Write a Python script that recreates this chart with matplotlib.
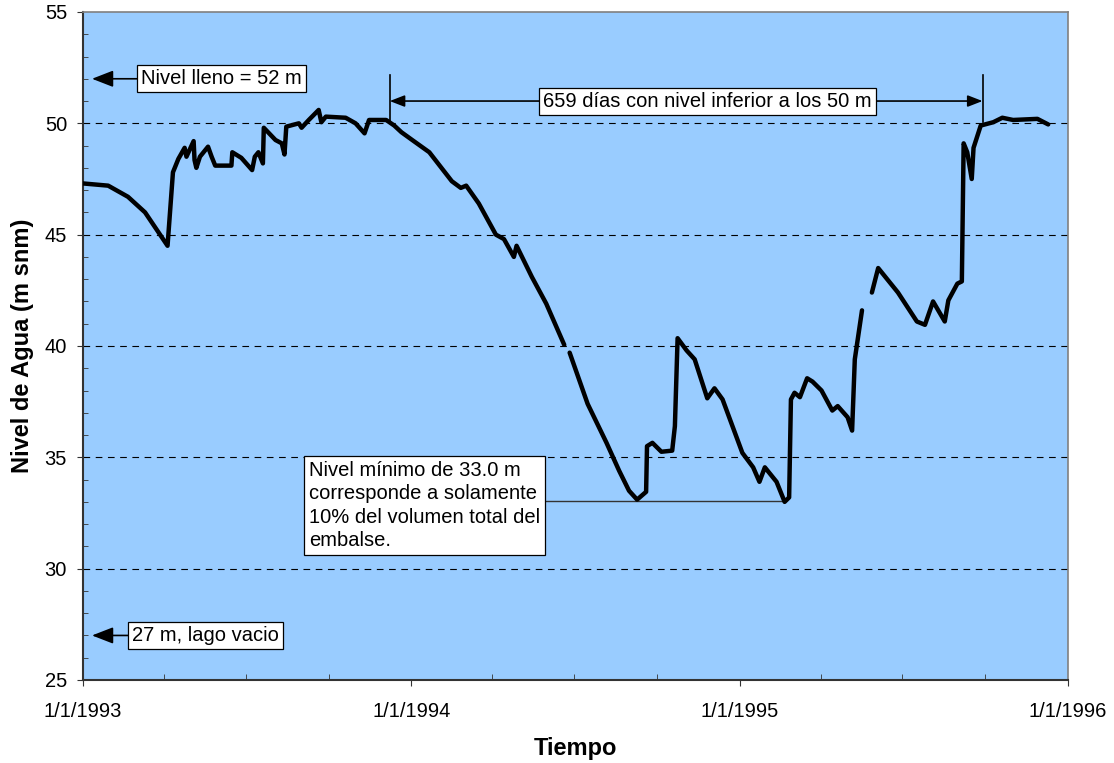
"""Nivel de agua del embalse, 1993-1995."""

import numpy as np
import pandas as pd
import matplotlib
matplotlib.use("Agg")
import matplotlib.pyplot as plt
import matplotlib.dates as mdates

plt.rcParams["font.family"] = ["Liberation Sans", "DejaVu Sans"]

# fechas de lectura y nivel (m snm); NaN marca huecos en el registro
fechas = [
    "1993-01-01", "1993-01-29", "1993-02-20", "1993-03-11", "1993-03-26",
    "1993-04-05", "1993-04-11", "1993-04-17", "1993-04-24", "1993-04-26",
    "1993-05-04", "1993-05-05", "1993-05-07", "1993-05-11", "1993-05-20",
    "1993-05-24", "1993-05-28", "1993-06-15", "1993-06-16", "1993-06-26",
    "1993-07-08", "1993-07-11", "1993-07-15", "1993-07-20", "1993-07-21",
    "1993-08-03", "1993-08-10", "1993-08-13",
    "1993-08-15", "1993-08-29", "1993-09-01", "1993-09-09", "1993-09-20",
    "1993-09-23", "1993-09-28", "1993-10-20", "1993-10-31", "1993-11-10",
    "1993-11-15", "1993-12-04", "1993-12-13", "1993-12-21", "1994-01-02",
    "1994-01-21", "1994-02-15", "1994-02-25", "1994-03-03", "1994-03-17",
    "1994-04-05", "1994-04-14", "1994-04-25", "1994-04-28", "1994-05-15",
    "1994-05-31", "1994-06-20", "1994-06-23", "1994-06-26", "1994-07-16",
    "1994-08-06", "1994-08-20", "1994-08-31", "1994-09-09", "1994-09-19",
    "1994-09-20", "1994-09-26", "1994-10-06", "1994-10-18", "1994-10-21",
    "1994-10-24", "1994-11-03", "1994-11-12", "1994-11-26", "1994-12-04",
    "1994-12-13", "1995-01-04", "1995-01-16", "1995-01-23", "1995-01-29",
    "1995-02-11", "1995-02-20", "1995-02-25", "1995-02-27", "1995-03-03",
    "1995-03-09", "1995-03-17", "1995-03-23", "1995-04-02", "1995-04-14",
    "1995-04-20", "1995-05-01", "1995-05-06", "1995-05-09", "1995-05-17",
    "1995-05-22", "1995-05-28", "1995-06-04", "1995-06-26", "1995-07-17",
    "1995-07-26", "1995-08-04", "1995-08-17", "1995-08-21", "1995-08-31",
    "1995-09-05", "1995-09-07", "1995-09-11", "1995-09-16", "1995-09-18",
    "1995-09-26", "1995-10-10", "1995-10-20", "1995-11-01", "1995-11-28",
    "1995-12-10",
]
nivel = [
    47.3, 47.2, 46.7, 46.0, 45.1,
    44.5, 47.8, 48.4, 48.9, 48.5,
    49.2, 48.35, 48.0, 48.5, 48.95,
    48.5, 48.1, 48.1, 48.7, 48.45,
    47.9, 48.5, 48.7, 48.2, 49.8,
    49.25, 49.1, 48.6,
    49.85, 50.0, 49.8, 50.15, 50.6,
    50.05, 50.3, 50.25, 50.0, 49.55,
    50.15, 50.15, 49.9, 49.6, 49.25,
    48.7, 47.4, 47.1, 47.2, 46.4,
    45.0, 44.8, 44.0, 44.5, 43.1,
    41.9, 40.05, np.nan, 39.7, 37.4,
    35.65, 34.4, 33.5, 33.1, 33.45,
    35.5, 35.65, 35.25, 35.3, 36.4,
    40.35, 39.8, 39.4, 37.65, 38.1,
    37.6, 35.2, 34.55, 33.9, 34.55,
    33.9, 33.0, 33.2, 37.6, 37.9,
    37.7, 38.55, 38.4, 38.0, 37.1,
    37.3, 36.8, 36.2, 39.4, 41.6,
    np.nan, 42.4, 43.5, 42.4, 41.1,
    40.95, 42.0, 41.1, 42.05, 42.8,
    42.9, 49.1, 48.7, 47.5, 48.9,
    49.9, 50.05, 50.25, 50.15, 50.2,
    49.95,
]

nivel_lleno = 52
nivel_vacio = 27
nivel_minimo = 33.0
fecha_minimo = "1995-02-20"
inicio_bajo_50 = "1993-12-08"
dias_bajo_50 = 659

fechas = pd.to_datetime(fechas)
inicio_bajo_50 = pd.Timestamp(inicio_bajo_50)
fin_bajo_50 = inicio_bajo_50 + pd.Timedelta(days=dias_bajo_50)

fig = plt.figure(figsize=(11.14, 7.63), dpi=100)
ax = fig.add_axes([0.0745, 0.1088, 0.8842, 0.8755])
ax.set_facecolor("#99CCFF")

ax.plot(fechas, nivel, color="black", lw=3.2, solid_capstyle="round",
        solid_joinstyle="round", zorder=3)

ax.set_xlim(pd.Timestamp("1993-01-01"), pd.Timestamp("1996-01-01"))
ax.set_ylim(25, 55)
ax.set_yticks(range(25, 56, 5))
ax.yaxis.set_minor_locator(matplotlib.ticker.MultipleLocator(1))
ax.xaxis.set_major_locator(mdates.YearLocator())
ax.xaxis.set_minor_locator(mdates.MonthLocator(bymonth=[4, 7, 10]))
ax.xaxis.set_major_formatter(
    matplotlib.ticker.FuncFormatter(
        lambda v, p: "1/1/%d" % mdates.num2date(v).year))

for y in range(30, 55, 5):
    ax.axhline(y, color="black", lw=0.8, ls=(0, (6, 5)), zorder=1)

ax.tick_params(axis="both", which="major", labelsize=14.5, length=4.5,
               direction="out", color="#333333")
ax.tick_params(axis="x", which="major", pad=11)
ax.tick_params(axis="y", which="major", pad=7)
ax.tick_params(axis="y", which="minor", length=3.5, direction="in",
               color="#333333")
ax.tick_params(axis="x", which="minor", length=4, direction="in",
               color="#333333")
for lado in ["left", "bottom"]:
    ax.spines[lado].set_color("#333333")
    ax.spines[lado].set_linewidth(1.5)
for lado in ["top", "right"]:
    ax.spines[lado].set_color("#808080")
    ax.spines[lado].set_linewidth(1.2)

ax.set_xlabel("Tiempo", fontsize=17, fontweight="bold", labelpad=12)
ax.set_ylabel("Nivel de Agua (m snm)", fontsize=17, fontweight="bold",
              labelpad=8)

caja = dict(boxstyle="square,pad=0.2", facecolor="white",
            edgecolor="black", lw=0.9)
flecha = dict(arrowstyle="-|>,head_length=0.9,head_width=0.35",
              color="black", lw=1.2, shrinkA=0, shrinkB=0)

# nivel lleno y lago vacio
ax.annotate("Nivel lleno = %d m" % nivel_lleno,
            xy=(pd.Timestamp("1993-01-11"), nivel_lleno),
            xytext=(pd.Timestamp("1993-03-07"), nivel_lleno),
            ha="left", va="center", fontsize=14.5, bbox=caja,
            arrowprops=flecha, zorder=5)
ax.annotate("%d m, lago vacio" % nivel_vacio,
            xy=(pd.Timestamp("1993-01-11"), nivel_vacio),
            xytext=(pd.Timestamp("1993-02-25"), nivel_vacio),
            ha="left", va="center", fontsize=14.5, bbox=caja,
            arrowprops=flecha, zorder=5)

# periodo por debajo de 50 m
for f in [inicio_bajo_50, fin_bajo_50]:
    ax.plot([f, f], [50.05, 52.15], color="black", lw=1.2, zorder=4)
ax.annotate("", xy=(inicio_bajo_50, 51.0), xytext=(fin_bajo_50, 51.0),
            arrowprops=dict(arrowstyle="<|-|>,head_length=0.9,head_width=0.35",
                            color="black", lw=1.2, shrinkA=0, shrinkB=0),
            zorder=4)
ax.text(pd.Timestamp("1994-11-26"), 51.0,
        "%d días con nivel inferior a los 50 m" % dias_bajo_50,
        ha="center", va="center", fontsize=14.5, bbox=caja, zorder=5)

# nivel minimo
ax.plot([pd.Timestamp("1994-01-01"), pd.Timestamp(fecha_minimo)],
        [nivel_minimo + 0.05, nivel_minimo + 0.05], color="#333333", lw=1,
        zorder=2)
ax.text(pd.Timestamp("1993-09-09"), 34.85,
        "Nivel mínimo de %.1f m\ncorresponde a solamente\n"
        "10%% del volumen total del\nembalse." % nivel_minimo,
        ha="left", va="top", fontsize=14.5, linespacing=1.3,
        bbox=dict(boxstyle="square,pad=0.25", facecolor="white",
                  edgecolor="black", lw=0.9), zorder=5)

fig.savefig("out.png", dpi=100)
